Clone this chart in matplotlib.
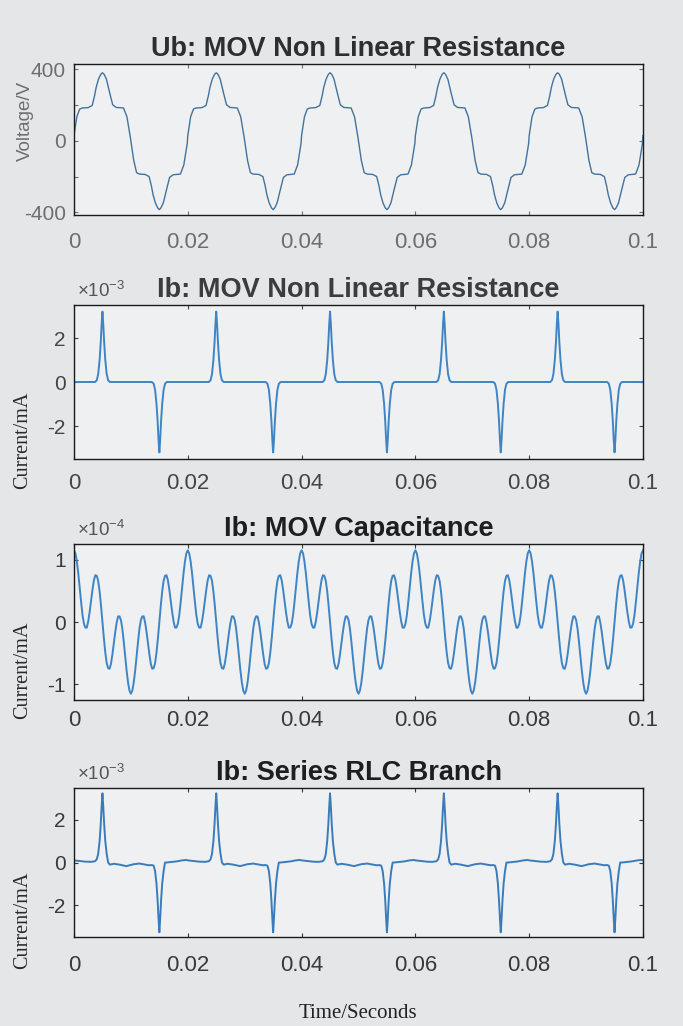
import numpy as np
import matplotlib
matplotlib.use("Agg")
import matplotlib.pyplot as plt

plt.rcParams['font.family'] = ['Liberation Sans', 'DejaVu Sans']
plt.rcParams['mathtext.fontset'] = 'custom'
plt.rcParams['mathtext.rm'] = 'Liberation Sans'
plt.rcParams['mathtext.it'] = 'Liberation Sans'

# ---------------- data (one 20 ms period each) ----------------
n_periods = 5
period_ms = 20.0

# Ub: MOV non-linear resistance voltage (V)
t_volt_ms = [0.0, 0.5, 1.0, 1.5, 2.5, 3.2, 3.6, 3.9, 4.3, 4.7, 5.0, 5.3, 5.7, 6.3, 6.8,
             7.4, 8.7, 9.3, 9.9, 10.5, 11.0, 11.5, 12.5, 13.2, 13.6, 13.9, 14.3, 14.7,
             15.0, 15.3, 15.7, 16.3, 16.8, 17.4, 18.7, 19.3, 19.9]
volt = [30, 135, 178, 184, 186, 198, 250, 300, 345, 372, 381, 372, 345, 265, 202,
        187, 184, 135, 20, -110, -178, -186, -188, -200, -252, -302, -347, -375,
        -385, -374, -347, -268, -205, -190, -186, -135, -15]

# Ib: MOV non-linear resistance current (x1e-3)
t_res_ms = [0.0, 3.7, 4.0, 4.25, 4.5, 4.7, 4.85, 5.0, 5.15, 5.3, 5.5, 5.75, 6.0, 6.3,
            13.7, 14.0, 14.25, 14.5, 14.7, 14.85, 15.0, 15.15, 15.3, 15.5, 15.75, 16.0, 16.3]
i_res = [0.0, 0.0, 0.08, 0.35, 1.0, 1.8, 2.6, 3.2, 2.6, 1.8, 1.0, 0.35, 0.08, 0.0,
         0.0, -0.08, -0.35, -1.0, -1.8, -2.6, -3.2, -2.6, -1.8, -1.0, -0.35, -0.08, 0.0]

# Ib: MOV capacitance current (x1e-4), samples every 0.25 ms
cap_step_ms = 0.25
i_cap = [1.15, 1.10, 0.97, 0.78, 0.55, 0.32, 0.11, -0.03, -0.09, -0.09,
         0.01, 0.16, 0.34, 0.52, 0.67, 0.75, 0.74, 0.66, 0.49, 0.26,
         0.00, -0.26, -0.49, -0.66, -0.74, -0.75, -0.67, -0.52, -0.34, -0.16,
         -0.01, 0.09, 0.09, 0.03, -0.11, -0.32, -0.55, -0.78, -0.97, -1.10,
         -1.15, -1.10, -0.97, -0.78, -0.55, -0.32, -0.11, 0.03, 0.09, 0.09,
         -0.01, -0.16, -0.34, -0.52, -0.67, -0.75, -0.74, -0.66, -0.49, -0.26,
         0.00, 0.26, 0.49, 0.66, 0.74, 0.75, 0.67, 0.52, 0.34, 0.16,
         0.01, -0.09, -0.09, -0.03, 0.11, 0.32, 0.55, 0.78, 0.97, 1.10]
t_cap_ms = np.arange(len(i_cap)) * cap_step_ms

# Ib: Series RLC branch current (x1e-3)
t_rlc_ms = [0.0, 1.0, 2.0, 3.0, 3.7, 4.0, 4.25, 4.5, 4.7, 4.85, 5.0, 5.15, 5.3, 5.5,
            5.75, 6.0, 6.3, 7.0, 8.0, 9.2, 10.5, 11.5, 12.5, 13.2, 13.7, 14.0, 14.25,
            14.5, 14.7, 14.85, 15.0, 15.15, 15.3, 15.5, 15.75, 16.0, 16.3, 17.0, 18.0,
            19.0, 19.7]
i_rlc = [0.10, 0.07, 0.04, 0.03, 0.06, 0.15, 0.4, 1.0, 1.8, 2.6, 3.25, 2.6, 1.8, 1.0,
         0.4, 0.0, -0.10, -0.06, -0.10, -0.17, -0.08, -0.05, -0.10, -0.13, -0.12,
         -0.15, -0.4, -1.0, -1.8, -2.6, -3.28, -2.6, -1.8, -1.0, -0.4, 0.0, 0.0,
         0.02, 0.05, 0.10, 0.12]

x_ticks = [0, 0.02, 0.04, 0.06, 0.08, 0.1]
x_tick_labels = ['0', '0.02', '0.04', '0.06', '0.08', '0.1']

titles = ['Ub: MOV Non Linear Resistance', 'Ib: MOV Non Linear Resistance',
          'Ib: MOV Capacitance', 'Ib: Series RLC Branch']


def full_series(t_ms, vals, scale):
    t_ms = np.asarray(t_ms, float)
    vals = np.asarray(vals, float)
    t = np.concatenate([(t_ms + k * period_ms) for k in range(n_periods)] +
                       [[n_periods * period_ms]]) / 1000.0
    y = np.concatenate([vals] * n_periods + [vals[:1]]) * scale
    return t, y


# ---------------- figure ----------------
W, H = 683, 1026
fig = plt.figure(figsize=(W / 100, H / 100), dpi=100, facecolor='#e4e6e8')

left = 74 / W
width = 569 / W
boxes = [(64, 215), (305, 459), (544, 700), (788, 937)]  # top, bottom pixels

series = [full_series(t_volt_ms, volt, 1.0),
          full_series(t_res_ms, i_res, 1e-3),
          full_series(t_cap_ms, i_cap, 1e-4),
          full_series(t_rlc_ms, i_rlc, 1e-3)]

ylims = [(-415, 430), (-3.5e-3, 3.5e-3), (-1.25e-4, 1.25e-4), (-3.5e-3, 3.5e-3)]
yticks = [[-400, -200, 0, 200, 400], [-2e-3, 0, 2e-3], [-1e-4, 0, 1e-4], [-2e-3, 0, 2e-3]]
yticklabels = [['-400', '', '0', '', '400'], ['-2', '0', '2'], ['-1', '0', '1'], ['-2', '0', '2']]
exps = [None, '-3', '-4', '-3']
line_colors = ['#45729c', '#3f84c4', '#3f84c4', '#3a7cbb']
line_widths = [1.0, 1.4, 1.4, 1.4]
tick_colors = ['#6e6e6e', '#454545', '#3a3a3a', '#3a3a3a']
title_colors = ['#2e2e2e', '#3c3c3c', '#1e1e1e', '#1e1e1e']
ylabel_y = [0.62, 0.12, 0.19, 0.11]
xlab_pad = [12, 10, 7, 13]

for k in range(4):
    top, bot = boxes[k]
    ax = fig.add_axes([left, 1 - bot / H, width, (bot - top) / H])
    ax.set_facecolor('#eef0f1')
    t, y = series[k]
    ax.plot(t, y, color=line_colors[k], lw=line_widths[k])
    ax.set_xlim(0, 0.1)
    ax.set_ylim(*ylims[k])
    ax.set_xticks(x_ticks)
    ax.set_xticklabels(x_tick_labels)
    ax.set_yticks(yticks[k])
    ax.set_yticklabels(yticklabels[k])
    ax.tick_params(direction='in', length=3, width=0.8, top=True, right=True,
                   colors=tick_colors[k])
    ax.tick_params(axis='x', labelsize=16, pad=xlab_pad[k])
    ax.tick_params(axis='y', labelsize=15, pad=6)
    for s in ax.spines.values():
        s.set_color('#1a1a1a')
        s.set_linewidth(1.0)
    ax.set_title(titles[k], fontsize=19.5, fontweight='bold', color=title_colors[k], pad=6)
    if exps[k] is not None:
        ax.text(0.005, 1.025, r'$\times10^{' + exps[k] + '}$', transform=ax.transAxes,
                fontsize=13.5, color='#555555', ha='left', va='bottom')
    if k == 0:
        ax.set_ylabel('Voltage/V', fontsize=13.5, color='#6e6e6e')
        ax.yaxis.set_label_coords(-0.07, ylabel_y[k])
    else:
        ax.set_ylabel('Current/mA', fontsize=14.5, color='#2a2a2a',
                      family=['Liberation Serif'])
        ax.yaxis.set_label_coords(-0.073, ylabel_y[k])

fig.text(358 / W, 1 - 1013 / H, 'Time/Seconds', ha='center', va='center',
         fontsize=15, color='#222222', family=['Liberation Serif'])

fig.savefig('out.png', dpi=100, facecolor=fig.get_facecolor())
